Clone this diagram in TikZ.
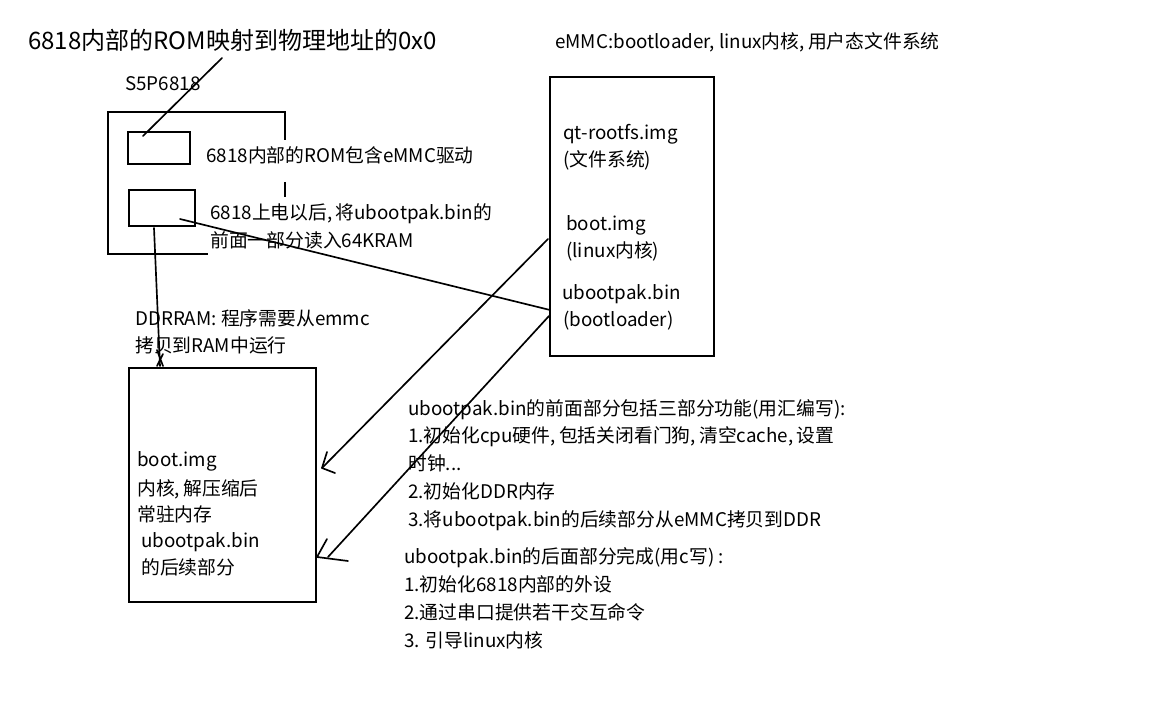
\documentclass[tikz,border=0pt]{standalone}
\usepackage{fontspec}
\setmainfont{Noto Sans CJK SC}
\newcommand{\cm}{,\kern2.5pt}
\begin{document}
\begin{tikzpicture}[x=0.75pt,y=-0.75pt,
  txt/.style={anchor=west,inner sep=0pt,font=\fontsize{14.1pt}{17pt}\selectfont,text height=11.5pt,text depth=3pt},
  big/.style={anchor=west,inner sep=0pt,font=\fontsize{18pt}{21pt}\selectfont,text height=14.5pt,text depth=3.5pt},
  box/.style={draw,line width=1.5pt,inner sep=0pt,anchor=north west},
  conn/.style={line width=1.25pt,line cap=round,line join=round}]
\useasboundingbox (0,0) rectangle (1172,702);
\fill[white] (0,0) rectangle (1172,702);

% titles
\node[big] (title) at (28,42) {6818内部的ROM映射到物理地址的0x0};
\node[txt] (emmctitle) at (555,43) {eMMC:bootloader, linux内核\cm 用户态文件系统};

% S5P6818 chip
\node[txt] (chiplabel) at (125,85) {S5P6818};
\draw[line width=1.5pt] (285,140) -- (285,112) -- (108,112) -- (108,254) -- (208,254);
\draw[line width=1.5pt] (285,182) -- (285,197);
\node[box,minimum width=46.5pt,minimum height=24pt] (rom) at (127,131) {};
\node[box,minimum width=49.5pt,minimum height=27pt] (sram) at (128,189) {};
\node[txt] (romtxt) at (206,157) {6818内部的ROM包含eMMC驱动};
\node[txt] (sramtxt1) at (210,214) {6818上电以后\cm 将ubootpak.bin的};
\node[txt] (sramtxt2) at (210,242) {前面一部分读入64KRAM};

% DDR
\node[txt] (ddrlabel1) at (135,320) {DDRRAM: 程序需要从emmc};
\node[txt] (ddrlabel2) at (135,347) {拷贝到RAM中运行};
\node[box,minimum width=140.25pt,minimum height=175.5pt] (ddr) at (128,367) {};
\node[txt] (d1) at (137,461) {boot.img};
\node[txt] (d2) at (137,490) {内核\cm 解压缩后};
\node[txt] (d3) at (137,516) {常驻内存};
\node[txt] (d4) at (141,542) {ubootpak.bin};
\node[txt] (d5) at (141,569) {的后续部分};

% eMMC
\node[box,minimum width=123pt,minimum height=209.25pt] (emmc) at (549,76) {};
\node[txt] (e1) at (563,134) {qt-rootfs.img};
\node[txt] (e2) at (563,161) {(文件系统)};
\node[txt] (e3) at (566,225) {boot.img};
\node[txt] (e4) at (566,252) {(linux内核)};
\node[txt] (e5) at (562,294) {ubootpak.bin};
\node[txt] (e6) at (563,321) {(bootloader)};

% right text
\node[txt] (r1) at (408,410) {ubootpak.bin的前面部分包括三部分功能(用汇编写):};
\node[txt] (r2) at (408,437) {1.初始化cpu硬件\cm 包括关闭看门狗\cm 清空cache\cm 设置};
\node[txt] (r3) at (408,465) {时钟...};
\node[txt] (r4) at (408,493) {2.初始化DDR内存};
\node[txt] (r5) at (408,521) {3.将ubootpak.bin的后续部分从eMMC拷贝到DDR};
\node[txt] (s1) at (404,558) {ubootpak.bin的后面部分完成(用c写) :};
\node[txt] (s2) at (404,586) {1.初始化6818内部的外设};
\node[txt] (s3) at (404,614) {2.通过串口提供若干交互命令};
\node[txt] (s4) at (404,642) {3. 引导linux内核};

% connector coordinates
\coordinate (tA) at (222,58);
\coordinate (tB) at (143,136);
\coordinate (sA) at (180,219);
\coordinate (eA) at (550,310);
\coordinate (vA) at (154,228);
\coordinate (vB) at (160,366);
\coordinate (a1s) at (548,239);
\coordinate (a1t) at (322,468);
\coordinate (a2s) at (549,316);
\coordinate (a2e) at (328,557);
\coordinate (a2t) at (317,557);

% connectors
\draw[conn] (tA) -- (tB);
\draw[conn] (sA) -- (eA);
\draw[conn] (vA) -- (vB);
\draw[conn] (157,350) -- (163,366) (163,354) -- (157,366);
\draw[conn] (a1s) -- (a1t);
\draw[conn] (327,452) -- (a1t) -- (335,473);
\draw[conn] (a2s) -- (a2e);
\draw[conn] (327,539) -- (a2t) -- (348,561);
\end{tikzpicture}
\end{document}
